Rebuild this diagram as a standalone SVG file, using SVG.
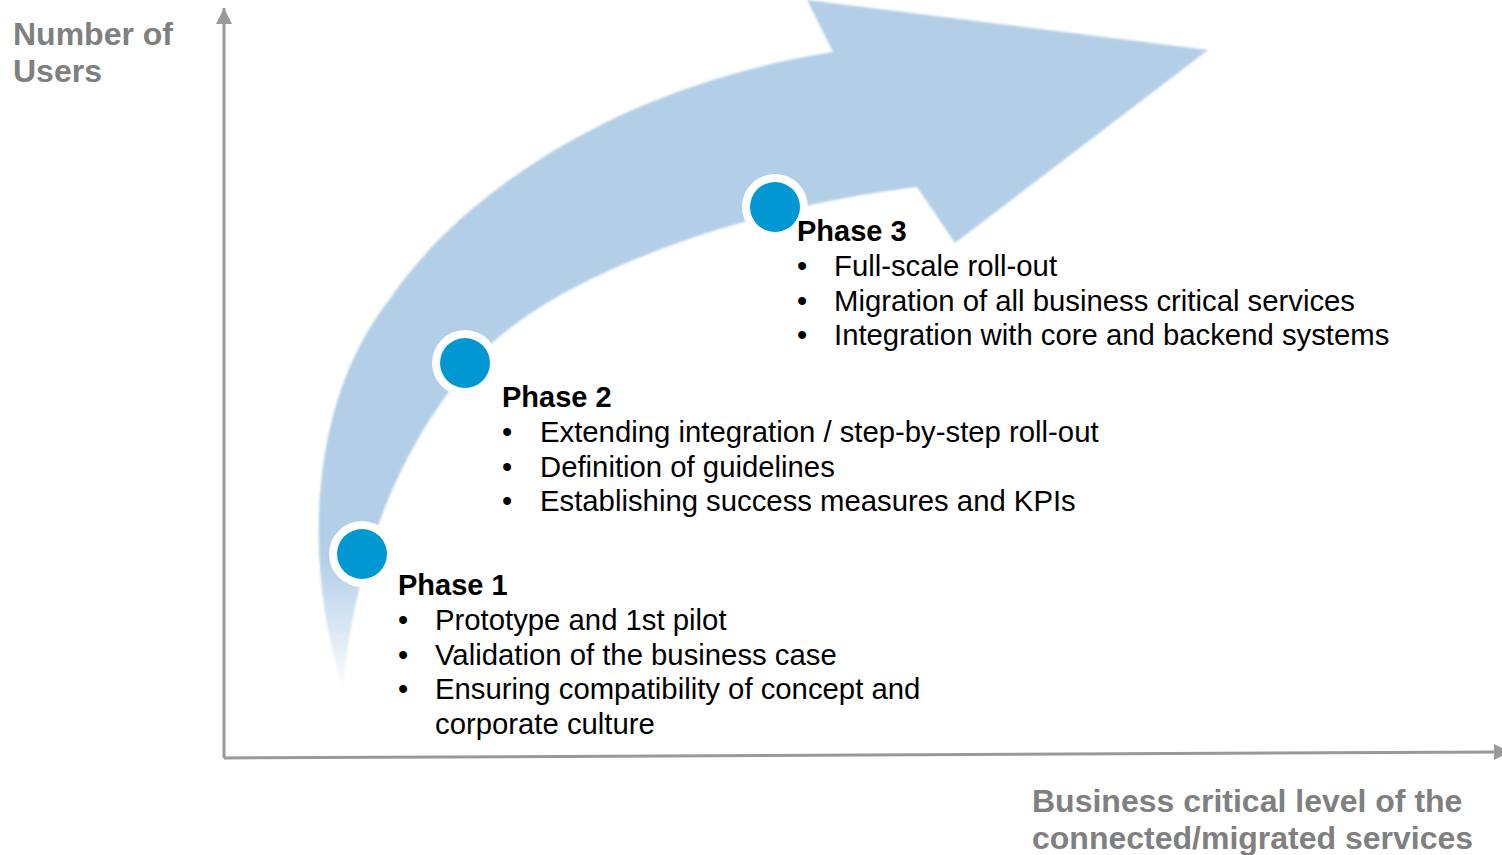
<svg xmlns="http://www.w3.org/2000/svg" width="1502" height="855" viewBox="0 0 1502 855">
  <defs>
    <style>
      .axislabel { font-family: "Liberation Sans", Arial, sans-serif; font-weight: bold; font-size: 32px; fill: #808080; }
      .title { font-family: "Liberation Sans", Arial, sans-serif; font-weight: bold; font-size: 29px; fill: #000; }
      .item { font-family: "Liberation Sans", Arial, sans-serif; font-size: 29.3px; fill: #000; }
      .ring { fill: #ffffff; }
      .dot { fill: #0097d3; }
      .axis { stroke: #999999; stroke-width: 3; fill: none; }
    </style>
    <linearGradient id="arrowFill" gradientUnits="userSpaceOnUse" x1="0" y1="0" x2="0" y2="700">
      <stop offset="0" stop-color="#b3cfe7" stop-opacity="1"/>
      <stop offset="0.8" stop-color="#b3cfe7" stop-opacity="1"/>
      <stop offset="0.99" stop-color="#b3cfe7" stop-opacity="0"/>
    </linearGradient>
    <filter id="soft" x="-5%" y="-5%" width="110%" height="110%">
      <feGaussianBlur stdDeviation="1.3"/>
    </filter>
    <marker id="axisHead" markerUnits="userSpaceOnUse" markerWidth="18" markerHeight="18" refX="16" refY="8" orient="auto">
      <path d="M0,0 L16,8 L0,16 Z" fill="#999999"/>
    </marker>
  </defs>

  <g id="arrow">
    <path filter="url(#soft)" fill="url(#arrowFill)" d="M 343 688 C 302 560, 310 400, 389 300 C 462 192, 620 85, 833 52 L 807 0 L 1208 50 L 955 243 L 917 187 C 760 205, 560 270, 480 355 C 410 430, 357 540, 343 688 Z"/>
  </g>

  <g id="connectors">
    <line class="axis" x1="224" y1="758" x2="224" y2="8" marker-end="url(#axisHead)"/>
    <line class="axis" x1="224" y1="758" x2="1510" y2="752" marker-end="url(#axisHead)"/>
  </g>

  <g id="y-label">
    <text class="axislabel" x="13" y="45">Number of</text>
    <text class="axislabel" x="13" y="82">Users</text>
  </g>

  <g id="x-label">
    <text class="axislabel" x="1032" y="812">Business critical level of the</text>
    <text class="axislabel" x="1032" y="849">connected/migrated services</text>
  </g>

  <g id="phase1">
    <circle class="ring" cx="362" cy="554" r="33"/>
    <circle class="dot" cx="362" cy="554" r="25"/>
    <text class="title" x="398" y="595">Phase 1</text>
    <text class="item" x="398" y="630">•</text>
    <text class="item" x="435" y="630">Prototype and 1st pilot</text>
    <text class="item" x="398" y="664.5">•</text>
    <text class="item" x="435" y="664.5">Validation of the business case</text>
    <text class="item" x="398" y="699">•</text>
    <text class="item" x="435" y="699">Ensuring compatibility of concept and</text>
    <text class="item" x="435" y="733.5">corporate culture</text>
  </g>

  <g id="phase2">
    <circle class="ring" cx="465" cy="363" r="33"/>
    <circle class="dot" cx="465" cy="363" r="25"/>
    <text class="title" x="502" y="407">Phase 2</text>
    <text class="item" x="502" y="442">•</text>
    <text class="item" x="540" y="442">Extending integration / step-by-step roll-out</text>
    <text class="item" x="502" y="476.5">•</text>
    <text class="item" x="540" y="476.5">Definition of guidelines</text>
    <text class="item" x="502" y="511">•</text>
    <text class="item" x="540" y="511">Establishing success measures and KPIs</text>
  </g>

  <g id="phase3">
    <circle class="ring" cx="775" cy="207" r="33"/>
    <circle class="dot" cx="775" cy="207" r="25"/>
    <text class="title" x="797" y="241">Phase 3</text>
    <text class="item" x="797" y="276">•</text>
    <text class="item" x="834" y="276">Full-scale roll-out</text>
    <text class="item" x="797" y="310.5">•</text>
    <text class="item" x="834" y="310.5">Migration of all business critical services</text>
    <text class="item" x="797" y="345">•</text>
    <text class="item" x="834" y="345">Integration with core and backend systems</text>
  </g>
</svg>
